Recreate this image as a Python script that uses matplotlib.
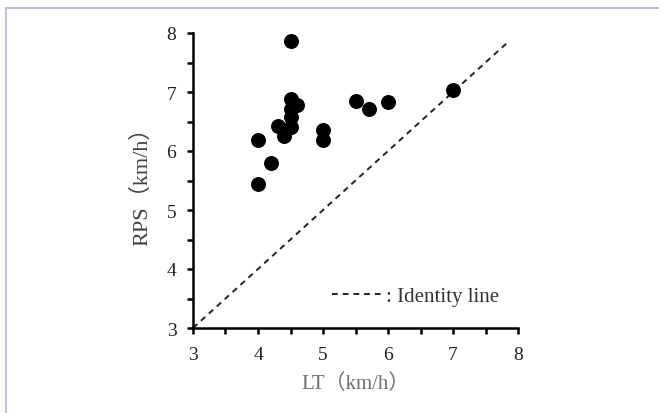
import matplotlib.pyplot as plt
import numpy as np
from matplotlib.lines import Line2D

# LT vs RPS (km/h)
lt = [4.5, 4.5, 4.6, 4.5, 4.5, 4.5, 4.3, 4.4, 4.0, 4.2, 4.0, 5.0, 5.0, 5.5, 5.7, 6.0, 7.0]
rps = [7.87, 6.88, 6.78, 6.71, 6.58, 6.40, 6.43, 6.25, 6.18, 5.80, 5.44, 6.36, 6.19, 6.85, 6.72, 6.83, 7.03]
ident = [3, 7.85]
xticks = [3, 4, 5, 6, 7, 8]
yticks = [3, 4, 5, 6, 7, 8]

fam = ['Liberation Serif', 'Noto Sans CJK SC']

fig = plt.figure(figsize=(6.59, 4.14), dpi=100)
ax = fig.add_axes([193/659, 1-329/414, 325/659, 295/414])

# thin lavender frame around the picture
fig.add_artist(Line2D([6/659, 6/659], [0, 1-9/414], color='#b4b4e0', lw=1.2, transform=fig.transFigure))
fig.add_artist(Line2D([6/659, 1], [1-9/414, 1-9/414], color='#b4b4e0', lw=1.2, transform=fig.transFigure))

ax.plot(ident, ident, ls=(0, (3, 2.5)), color='#222222', lw=1.4, label=': Identity line')
ax.scatter(lt, rps, s=95, color='black', zorder=3, clip_on=False)

ax.set_xlim(3, 8)
ax.set_ylim(3, 8)
ax.set_xticks(xticks)
ax.set_yticks(yticks)
ax.set_xticks(np.arange(3.5, 8, 1), minor=True)
ax.set_yticks(np.arange(3.5, 8, 1), minor=True)
ax.spines['top'].set_visible(False)
ax.spines['right'].set_visible(False)
for s in ['left', 'bottom']:
    ax.spines[s].set_linewidth(1.8)
ax.tick_params(which='both', direction='out', length=4, width=1.8, colors='black')
ax.tick_params(axis='x', labelsize=14, pad=9)
ax.tick_params(axis='y', labelsize=14, pad=8)
for lab in ax.get_xticklabels() + ax.get_yticklabels():
    lab.set_family(fam)
    lab.set_color('#222222')

ax.set_xlabel('LT（km/h）', fontsize=15, family=fam, color='#707070', labelpad=7)
ax.set_ylabel('RPS（km/h）', fontsize=16, family=fam, color='#404040', labelpad=10)

leg = ax.legend(loc='lower right', bbox_to_anchor=(1.0, 0.01), frameon=False, handlelength=2.5,
                handletextpad=0.1, prop={'family': fam, 'size': 15})
for t in leg.get_texts():
    t.set_color('#333333')

fig.savefig('out.png', dpi=100)
